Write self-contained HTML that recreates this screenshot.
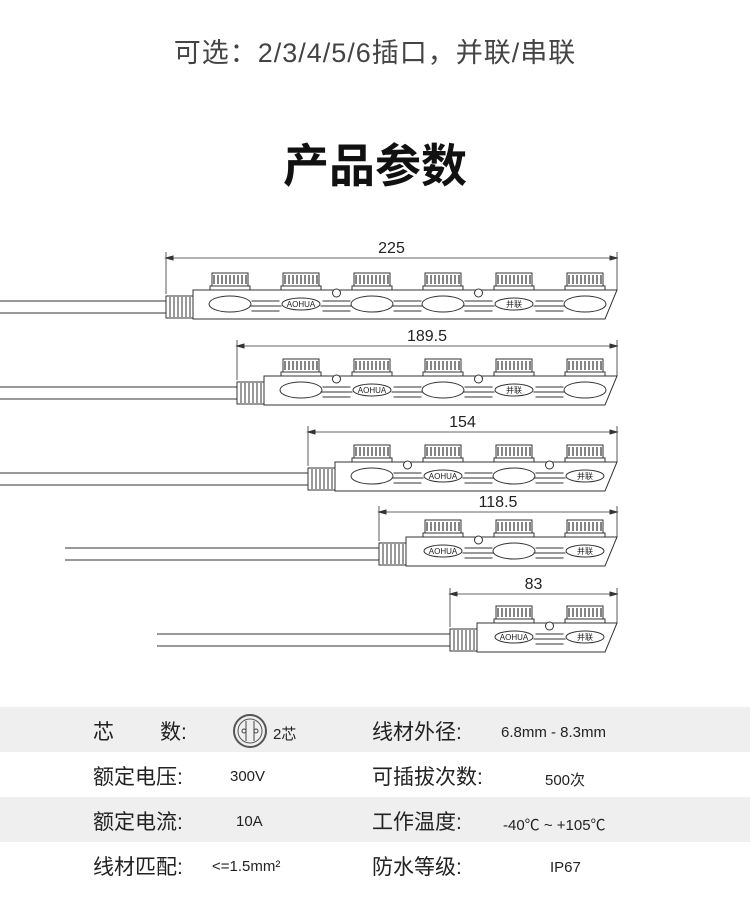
<!DOCTYPE html>
<html><head><meta charset="utf-8"><style>
body{margin:0;width:750px;height:911px;background:#fff;position:relative;overflow:hidden;font-family:"Liberation Sans","Noto Sans CJK SC",sans-serif;color:#222}
.t{position:absolute;white-space:nowrap}
.band{position:absolute;left:0;width:750px;height:45px;background:#efefef}
.l{font-size:21px;color:#222}
.v{font-size:15px;color:#222}
</style></head><body>
<div class="t" style="left:0;width:750px;text-align:center;top:31px;font-size:27px;color:#444;letter-spacing:1px">可选：2/3/4/5/6插口，并联/串联</div>
<div class="t" style="left:0;width:750px;text-align:center;top:130px;font-size:46px;font-weight:bold;color:#111">产品参数</div>

<svg width="750" height="911" style="position:absolute;left:0;top:0" xmlns="http://www.w3.org/2000/svg">
<defs>
<g id="cap" fill="#fff" stroke="#333" stroke-width="1">
<rect x="-18" y="0" width="36" height="13"/>
<path d="M-16 2V11M-12 2V11M-8 2V11M-4 2V11M0 2V11M4 2V11M8 2V11M12 2V11M16 2V11" stroke-width="1.2"/>
<rect x="-20" y="13" width="40" height="4"/>
</g>
<g id="ridge" fill="none" stroke="#333" stroke-width="1"><path d="M-14 -4H14M-16 1H16M-14 6H14"/></g>
</defs>
<g id="rows" font-family="Liberation Sans, sans-serif" font-size="15" fill="#222"></g>
</svg>
<script>
var rows=[[6,273,258,0,"225",["","AOHUA","","","并联",""],[1,3]],
[5,359,346,0,"189.5",["","AOHUA","","并联",""],[0,2]],
[4,445,432,0,"154",["","AOHUA","","并联"],[0,2]],
[3,520,512,65,"118.5",["AOHUA","","并联"],[0]],
[2,606,594,157,"83",["AOHUA","并联"],[0]]];
var s="";
rows.forEach(function(r){
 var n=r[0],ct=r[1],dy=r[2],cx0=r[3],labs=r[5],circ=r[6];
 var first=585-71*(n-1), bl=first-37, sl=bl-27, bt=ct+17, bb=ct+46;
 s+='<g stroke="#333" fill="none" stroke-width="1">';
 s+='<path d="M'+sl+' '+dy+'H617M'+sl+' '+(dy-6)+'V'+(bt+4)+'M617 '+(dy-6)+'V'+(bt)+'" stroke-width="0.8"/>';
 s+='<path d="M'+sl+' '+dy+'l7 -2v4zM617 '+dy+'l-7 -2v4z" fill="#333"/>';
 s+='<path d="M'+cx0+' '+(bt+11)+'H'+sl+'M'+cx0+' '+(bt+23)+'H'+sl+'"/>';
 s+='<rect x="'+sl+'" y="'+(bt+6)+'" width="27" height="22" fill="#fff"/>';
 for(var k=0;k<6;k++) s+='<path d="M'+(sl+4+k*4)+' '+(bt+7)+'V'+(bt+27)+'"/>';
 s+='<path d="M'+bl+' '+bt+'H617L605 '+bb+'H'+bl+'Z" fill="#fff"/>';
 s+='</g>';
 for(var i=0;i<n;i++){
  var cx=first+71*i;
  s+='<use href="#cap" x="'+cx+'" y="'+ct+'"/>';
  var lbl=labs[i];
  s+='<ellipse cx="'+cx+'" cy="'+(bt+14)+'" rx="'+(lbl?19:21)+'" ry="'+(lbl?6:8)+'" fill="#fff" stroke="#333"/>';
  if(lbl) s+='<text x="'+cx+'" y="'+(bt+17)+'" font-size="8" text-anchor="middle" font-family="Liberation Sans, Noto Sans CJK SC, sans-serif">'+lbl+'</text>';
  if(i<n-1){ s+='<use href="#ridge" x="'+(cx+35.5)+'" y="'+(bt+15)+'"/>';
   if(circ.indexOf(i)>=0) s+='<circle cx="'+(cx+35.5)+'" cy="'+(bt+3)+'" r="4" fill="#fff" stroke="#333"/>';}
 }
 s+='<text x="'+((sl+617)/2)+'" y="'+(dy-5)+'" text-anchor="middle" font-size="16">'+r[4]+'</text>';
});
document.getElementById("rows").innerHTML=s;
</script>

<div class="band" style="top:707px"></div>
<div class="band" style="top:797px"></div>

<div class="t l" style="left:93px;top:716px">芯</div>
<div class="t l" style="left:160px;top:716px">数:</div>
<svg style="position:absolute;left:232px;top:713px" width="36" height="36"><circle cx="18" cy="18" r="16" fill="none" stroke="#555" stroke-width="2"/><circle cx="18" cy="18" r="12" fill="none" stroke="#555"/><path d="M14 8V28M22 8V28" stroke="#444"/><circle cx="12" cy="18" r="2" fill="none" stroke="#444"/><circle cx="24" cy="18" r="2" fill="none" stroke="#444"/></svg>
<div class="t v" style="left:273px;top:723px">2芯</div>
<div class="t l" style="left:372px;top:716px">线材外径:</div>
<div class="t v" style="left:501px;top:724px">6.8mm - 8.3mm</div>

<div class="t l" style="left:93px;top:761px">额定电压:</div>
<div class="t v" style="left:230px;top:768px">300V</div>
<div class="t l" style="left:372px;top:761px">可插拔次数:</div>
<div class="t v" style="left:545px;top:769px">500次</div>

<div class="t l" style="left:93px;top:806px">额定电流:</div>
<div class="t v" style="left:236px;top:813px">10A</div>
<div class="t l" style="left:372px;top:806px">工作温度:</div>
<div class="t v" style="left:503px;top:814px">-40℃ ~ +105℃</div>

<div class="t l" style="left:93px;top:851px">线材匹配:</div>
<div class="t v" style="left:212px;top:858px">&lt;=1.5mm²</div>
<div class="t l" style="left:372px;top:851px">防水等级:</div>
<div class="t v" style="left:550px;top:859px">IP67</div>
</body></html>
